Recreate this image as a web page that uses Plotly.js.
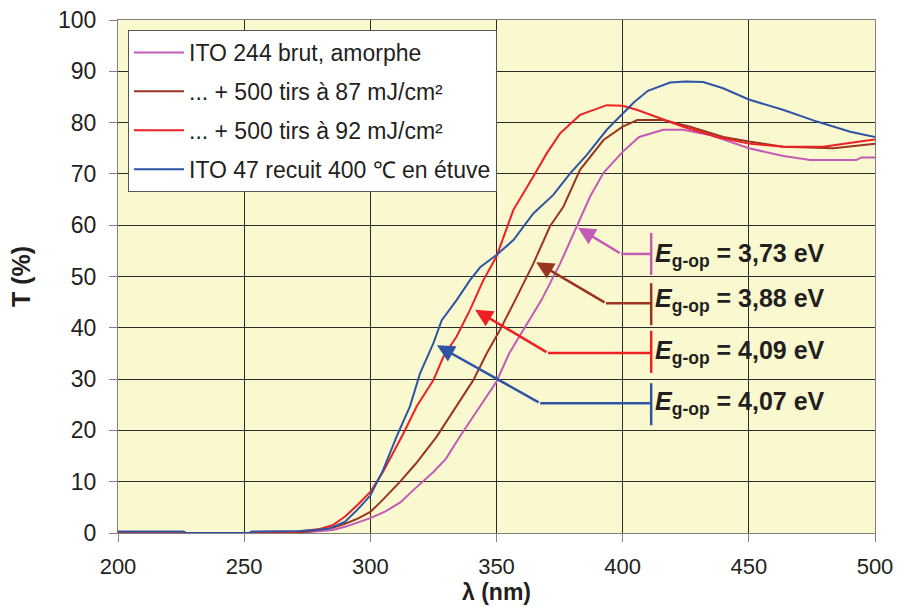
<!DOCTYPE html>
<html>
<head>
<meta charset="utf-8">
<script src="https://cdn.plot.ly/plotly-3.0.1.min.js"></script>
<style>html,body{margin:0;padding:0;background:#fff;}#chart{width:912px;height:607px;}</style>
</head>
<body>
<div id="chart"></div>
<script>
// ---- Data (wavelength in nm, transmission in %) ----
const seriesNames = ["ITO 244 brut, amorphe", "... + 500 tirs à 87 mJ/cm²", "... + 500 tirs à 92 mJ/cm²", "ITO 47 recuit 400 ℃ en étuve"];
const seriesColors = ["#C45AB8", "#9B3522", "#EE2024", "#2E55A5"];

const magentaX = [200,272,278,285,290,295,300,306,312,318,325,330,335.5,343.5,350,355,361.3,367.8,375.2,381.8,387.1,392.4,400,406.5,416.1,424,434.6,450,463.7,474.3,492.6,494.6,500];
const magentaY = [0,0,0.3,0.6,1.2,2.0,2.9,4.2,6,8.8,11.9,14.5,18.8,24.7,29.5,35,40,45.4,52.5,59.8,65.6,70.2,74.3,77.2,78.6,78.6,77.6,75,73.5,72.7,72.7,73.2,73.2];

const brownX = [200,270,275,280,285,290,295,300,305,311.8,318,326.3,334.2,340.8,346.1,351.4,357.4,364.6,371.2,376.5,383.1,392.4,400,405.8,416.1,426.7,439.9,450,463.7,483.5,500];
const brownY = [0,0,0.3,0.6,1.0,1.8,2.8,4.1,6.5,10,13.5,18.8,24.7,29.8,35,39.6,45.4,52.5,59.8,63.6,70.8,76.6,79.2,80.5,80.5,79.2,77.2,76.3,75.3,75,75.9];

const redX = [200,226,227,252,253,270,275,280,285,290,295,300,305,309,313.1,318.4,325,329,334.2,339.5,344.8,350,356.7,364.6,369.9,375.2,383.1,393.7,400,405.6,414.8,424,437.3,450,463.7,479.5,494,500];
const redY = [0.2,0.2,0,0,0.2,0.2,0.5,0.8,1.5,3.2,5.5,8,11.9,15.5,19.4,24.7,29.8,34.4,38.3,43.5,49.3,53.9,63,69.5,74,77.9,81.5,83.4,83.3,82.5,80.8,79.2,77.2,75.9,75.3,75.3,76.3,76.7];

const blueX = [200,226,227,252,253,272,278,284,290,295,300,305,310.4,315.7,319.7,325,328.3,334.2,339.5,343.5,350,356.7,364.6,372.5,379.2,385.8,393.7,400,404.6,410,418.8,425,431.9,439.8,450,463.5,477,490.2,500];
const blueY = [0.3,0.3,0,0,0.3,0.4,0.6,0.9,2.2,4.6,7.3,12.2,18.8,24.7,31.1,37,41.5,45.4,49.3,51.8,54.2,57.1,62.3,65.9,70.1,73.7,78.6,81.8,84,86.2,87.8,88,87.9,86.7,84.5,82.5,80.2,78.2,77.2];

const gapLabels = ["3,73", "3,88", "4,09", "4,07"];

const xTickVals = [200,250,300,350,400,450,500];
const yTickVals = [0,10,20,30,40,50,60,70,80,90,100];

// ---- Annotation geometry (data coordinates) ----
const arrowTips   = [[382.3,59.5],[365.7,52.8],[341.5,43.5],[326.4,36.6]];
const elbowPoints = [[399.4,54.4],[393.4,44.8],[370.4,35.1],[367.3,25.3]];
const barX = 411.3;
const barRanges = [[50.3,58.5],[40.5,48.7],[31.2,39.4],[21.0,29.2]];
const labelY = [54.2,45.4,35.3,25.3];

const xs = [magentaX, brownX, redX, blueX];
const ys = [magentaY, brownY, redY, blueY];

const traces = xs.map((x, i) => ({
  x: x, y: ys[i], type: "scatter", mode: "lines",
  name: seriesNames[i], legendgroup: "g" + i,
  line: {color: seriesColors[i], width: 2, shape: "linear"}
}));

const FONT = "Liberation Sans, Arial, sans-serif";
const shapes = [];
const annotations = [];
for (let i = 0; i < 4; i++) {
  shapes.push({type: "line", xref: "x", yref: "y", x0: elbowPoints[i][0], y0: elbowPoints[i][1], x1: barX, y1: elbowPoints[i][1], line: {color: seriesColors[i], width: 2.5}});
  shapes.push({type: "line", xref: "x", yref: "y", x0: barX, y0: barRanges[i][0], x1: barX, y1: barRanges[i][1], line: {color: seriesColors[i], width: 2.5}});
  annotations.push({x: arrowTips[i][0], y: arrowTips[i][1], ax: elbowPoints[i][0], ay: elbowPoints[i][1], axref: "x", ayref: "y", xref: "x", yref: "y", text: "", showarrow: true, arrowhead: 2, arrowsize: 1.4, arrowwidth: 2.5, arrowcolor: seriesColors[i]});
  annotations.push({x: barX + 0.9, y: labelY[i], xref: "x", yref: "y", xanchor: "left", yanchor: "middle", showarrow: false,
    text: "<b><i>E</i><sub>g-op</sub> = " + gapLabels[i] + " eV</b>",
    font: {family: FONT, size: 25, color: "#231f20"}});
}

const layout = {
  width: 912, height: 607,
  margin: {l: 118, r: 37, t: 20, b: 74},
  paper_bgcolor: "#ffffff",
  plot_bgcolor: "#FAF8CE",
  font: {family: FONT, color: "#231f20"},
  showlegend: true,
  legend: {x: 0.0132, y: 0.9805, xanchor: "left", yanchor: "top", bgcolor: "#ffffff", bordercolor: "#555555", borderwidth: 1,
    font: {size: 23, color: "#231f20"}, tracegroupgap: 6, traceorder: "grouped", itemwidth: 50},
  xaxis: {range: [200, 500], tickvals: xTickVals, ticktext: xTickVals.map(String), showgrid: true, gridcolor: "#2b2b2b", gridwidth: 1,
    zeroline: false, showline: true, linecolor: "#808080", linewidth: 1, mirror: true, ticks: "outside", ticklen: 8, tickcolor: "#808080",
    ticklabelstandoff: 6,
    tickfont: {size: 22, color: "#231f20"}, title: {text: "<b>λ (nm)</b>", font: {size: 23, color: "#231f20"}, standoff: 4}},
  yaxis: {range: [0, 100], tickvals: yTickVals, ticktext: yTickVals.map(String), showgrid: true, gridcolor: "#2b2b2b", gridwidth: 1,
    zeroline: false, showline: true, linecolor: "#808080", linewidth: 1, mirror: true, ticks: "outside", ticklen: 8, tickcolor: "#808080",
    ticklabelstandoff: 8,
    tickfont: {size: 23, color: "#231f20"}, title: {text: "<b>T (%)</b>", font: {size: 25, color: "#231f20"}, standoff: 20}},
  shapes: shapes,
  annotations: annotations
};

Plotly.newPlot("chart", traces, layout, {displayModeBar: false, staticPlot: true});
</script>
</body>
</html>
